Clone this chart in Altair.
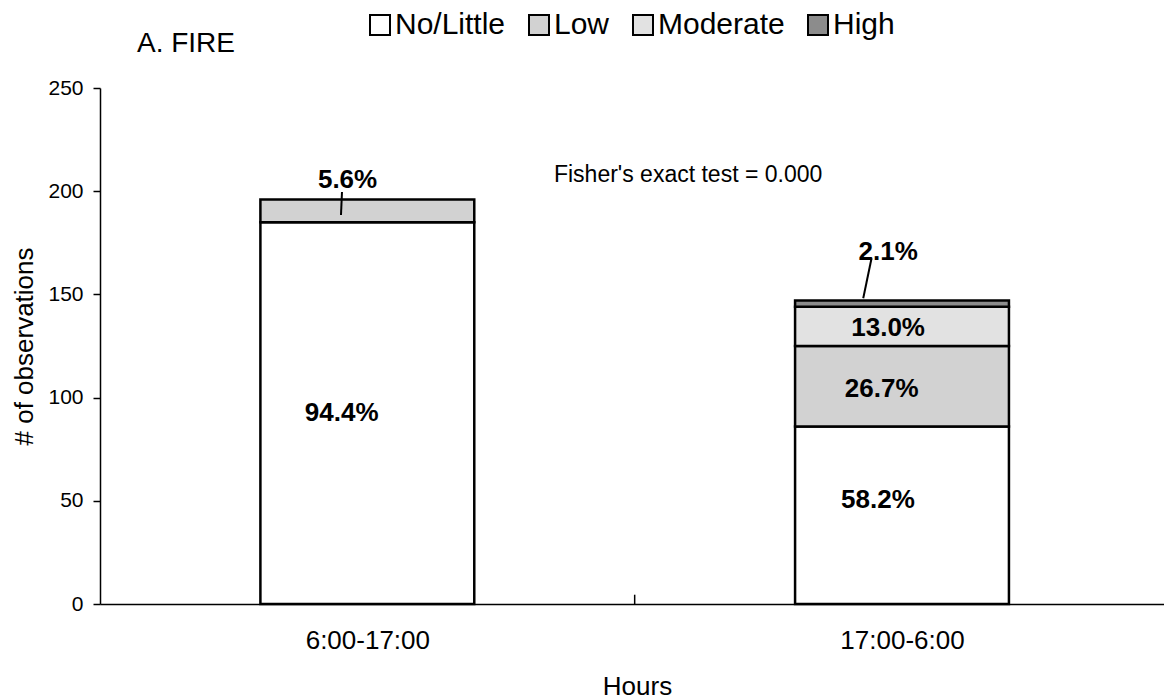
import altair as alt
import pandas as pd

# ---- data ----
hours = ["6:00-17:00", "17:00-6:00"]
bar_centers = [0.5, 1.5]
levels = ["No/Little", "Low", "Moderate", "High"]
level_colors = ["#ffffff", "#d2d2d2", "#e2e2e2", "#8c8c8c"]
day_counts = [185, 11, 0, 0]
night_counts = [86, 39, 19, 3]

# percentage labels (anchor in data units)
label_text = ["94.4%", "5.6%", "58.2%", "26.7%", "13.0%", "2.1%"]
label_x = [0.452, 0.463, 1.455, 1.462, 1.474, 1.474]
label_y = [92.5, 205.4, 50.4, 104.2, 133.7, 170.5]

# leader lines for the small segments
leader_x1 = [0.4526, 1.443]
leader_y1 = [199.6, 167.5]
leader_x2 = [0.4507, 1.4275]
leader_y2 = [188.5, 148.1]

# tick between the two categories
divider_x = [1.0]

note_text = ["Fisher's exact test = 0.000"]
note_x = [0.849]
note_y = [207.8]
chart_title = "A. FIRE"

FONT = "Liberation Sans"

rows = []
for h, c, counts in zip(hours, bar_centers, [day_counts, night_counts]):
    for i, (lv, n) in enumerate(zip(levels, counts)):
        if n > 0:
            rows.append(dict(hour=h, center=c, level=lv, order=i, count=n))
bars_df = pd.DataFrame(rows)

labels_df = pd.DataFrame(dict(t=label_text, lx=label_x, ly=label_y))
leaders_df = pd.DataFrame(dict(x1=leader_x1, y1=leader_y1, x2=leader_x2, y2=leader_y2))
divider_df = pd.DataFrame(dict(v=divider_x, b=[0.0], e=[4.5]))
note_df = pd.DataFrame(dict(t=note_text, nx=note_x, ny=note_y))

xscale = alt.Scale(domain=[0, 1.99], nice=False, zero=False)
yscale = alt.Scale(domain=[0, 250], nice=False)

label_expr = " : ".join(
    [f"datum.value == {c} ? '{h}'" for c, h in zip(bar_centers[:-1], hours[:-1])]
    + [f"'{hours[-1]}'"]
)

xaxis = alt.Axis(
    values=bar_centers,
    labelExpr=label_expr,
    ticks=False,
    tickSize=0,
    grid=False,
    labelFont=FONT,
    labelFontSize=26,
    labelColor="black",
    labelPadding=23,
    domainColor="black",
    domainWidth=1.5,
    title="Hours",
    titleFont=FONT,
    titleFontSize=26,
    titleFontWeight="normal",
    titleColor="black",
    titleX=537,
    titleY=90,
    titleBaseline="alphabetic",
)

yaxis = alt.Axis(
    values=[0, 50, 100, 150, 200, 250],
    grid=False,
    tickSize=7,
    tickColor="black",
    tickWidth=1.5,
    labelFont=FONT,
    labelFontSize=21,
    labelColor="black",
    labelPadding=10,
    domainColor="black",
    domainWidth=1.5,
    title="# of observations",
    titleFont=FONT,
    titleFontSize=26,
    titleFontWeight="normal",
    titleColor="black",
    titlePadding=10,
)


def X(field):
    return alt.X(field, scale=xscale, axis=xaxis)


def Y(field):
    return alt.Y(field, scale=yscale, axis=yaxis)


bars = (
    alt.Chart(bars_df)
    .transform_stack(
        stack="count",
        groupby=["hour"],
        as_=["y0", "y1"],
        sort=[alt.SortField("order", order="ascending")],
    )
    .transform_calculate(x0="datum.center - 0.2", x1="datum.center + 0.2")
    .mark_bar(stroke="black", strokeWidth=2.5)
    .encode(
        x=X("x0:Q"),
        x2="x1:Q",
        y=Y("y0:Q"),
        y2="y1:Q",
        fill=alt.Fill(
            "level:N",
            scale=alt.Scale(domain=levels, range=level_colors),
            legend=alt.Legend(
                orient="none",
                legendX=265,
                legendY=-78,
                direction="horizontal",
                title=None,
                symbolType="square",
                symbolSize=400,
                symbolStrokeColor="black",
                symbolStrokeWidth=2,
                symbolOpacity=1,
                labelFont=FONT,
                labelFontSize=30,
                labelColor="black",
                labelOffset=0,
                columnPadding=18,
                padding=0,
            ),
        ),
    )
)

labels = (
    alt.Chart(labels_df)
    .mark_text(font=FONT, fontSize=26, fontWeight="bold", color="black",
               align="center", baseline="middle")
    .encode(x=X("lx:Q"), y=Y("ly:Q"), text="t:N")
)

leaders = (
    alt.Chart(leaders_df)
    .mark_rule(color="black", strokeWidth=2)
    .encode(x=X("x1:Q"), y=Y("y1:Q"), x2="x2:Q", y2="y2:Q")
)

mid_tick = (
    alt.Chart(divider_df)
    .mark_rule(color="black", strokeWidth=1.5)
    .encode(x=X("v:Q"), y=Y("b:Q"), y2="e:Q")
)

note = (
    alt.Chart(note_df)
    .mark_text(font=FONT, fontSize=23, color="black", align="left", baseline="middle")
    .encode(x=X("nx:Q"), y=Y("ny:Q"), text="t:N")
)

title_mark = (
    alt.Chart(pd.DataFrame(dict(t=[chart_title])))
    .mark_text(font=FONT, fontSize=28, color="black", align="left", baseline="alphabetic")
    .encode(x=alt.value(37), y=alt.value(-36), text="t:N")
)

chart = (
    alt.layer(bars, labels, leaders, mid_tick, note, title_mark)
    .properties(
        width=1064,
        height=516,
        autosize=alt.AutoSizeParams(type="none"),
        padding={"left": 92, "top": 80, "right": 0, "bottom": 96},
        background="white",
    )
    .configure_view(stroke=None)
)

chart.save("out.html", embed_options={"renderer": "svg", "actions": False})
